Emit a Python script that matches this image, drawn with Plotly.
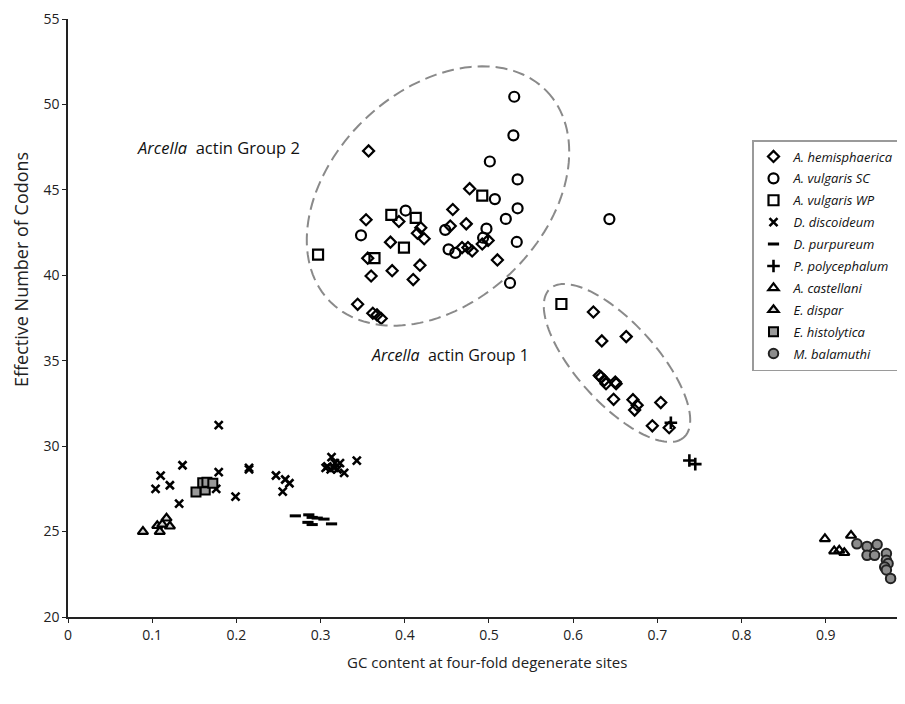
import numpy as np
import plotly.graph_objects as go

# ---------------- data ----------------
hemi_x = [0.357, 0.477, 0.457, 0.354, 0.393, 0.419, 0.473, 0.454,
          0.356, 0.360, 0.344, 0.362, 0.367, 0.372, 0.385, 0.383, 0.410, 0.418, 0.423, 0.415,
          0.468, 0.475, 0.480, 0.492, 0.499, 0.510,
          0.624, 0.634, 0.663, 0.631, 0.633, 0.637, 0.639, 0.650, 0.651, 0.648, 0.671, 0.676,
          0.673, 0.704, 0.694, 0.714]
hemi_y = [47.28, 45.07, 43.85, 43.25, 43.15, 42.78, 43.01, 42.88,
          41.00, 39.96, 38.30, 37.78, 37.68, 37.47, 40.27, 41.94, 39.75, 40.59, 42.14, 42.46,
          41.62, 41.62, 41.42, 41.83, 42.04, 40.90,
          37.85, 36.16, 36.41, 34.13, 34.04, 33.85, 33.65, 33.75, 33.65, 32.74, 32.72, 32.40,
          32.11, 32.55, 31.19, 31.08]

sc_x = [0.530, 0.529, 0.501, 0.534, 0.507, 0.534, 0.520, 0.401, 0.448, 0.497, 0.348, 0.493,
        0.533, 0.452, 0.460, 0.525, 0.643]
sc_y = [50.45, 48.19, 46.66, 45.61, 44.46, 43.92, 43.30, 43.79, 42.66, 42.73, 42.34, 42.20,
        41.95, 41.52, 41.31, 39.55, 43.29]

wp_x = [0.492, 0.384, 0.413, 0.297, 0.364, 0.399, 0.586]
wp_y = [44.66, 43.54, 43.36, 41.21, 41.00, 41.62, 38.32]

ddis_x = [0.179, 0.136, 0.110, 0.121, 0.104, 0.132, 0.179, 0.176, 0.215, 0.215, 0.199, 0.247,
          0.258, 0.263, 0.255, 0.308, 0.313, 0.317, 0.323, 0.312, 0.316, 0.306, 0.320, 0.328, 0.343]
ddis_y = [31.23, 28.88, 28.27, 27.71, 27.50, 26.64, 28.48, 27.50, 28.73, 28.64, 27.05, 28.28,
          28.05, 27.83, 27.34, 28.82, 29.36, 29.01, 29.01, 28.64, 28.73, 28.73, 28.64, 28.44, 29.15]

dpur_x = [0.270, 0.286, 0.290, 0.296, 0.304, 0.285, 0.290, 0.313]
dpur_y = [25.92, 25.98, 25.83, 25.79, 25.73, 25.54, 25.41, 25.45]

ppol_x = [0.716, 0.738, 0.745]
ppol_y = [31.37, 29.16, 28.95]

acas_x = [0.899, 0.930, 0.910, 0.916, 0.922]
acas_y = [24.57, 24.77, 23.86, 23.90, 23.76]

edis_x = [0.089, 0.106, 0.109, 0.117, 0.121, 0.112]
edis_y = [25.00, 25.34, 25.00, 25.78, 25.31, 25.42]

ehis_x = [0.152, 0.163, 0.160, 0.165, 0.172]
ehis_y = [27.32, 27.43, 27.86, 27.89, 27.83]

mbal_x = [0.937, 0.949, 0.961, 0.949, 0.958, 0.972, 0.972, 0.974, 0.970, 0.972, 0.977]
mbal_y = [24.28, 24.13, 24.24, 23.61, 23.61, 23.71, 23.32, 23.13, 22.92, 22.75, 22.26]

x_ticks = [0, 0.1, 0.2, 0.3, 0.4, 0.5, 0.6, 0.7, 0.8, 0.9]
x_ticklabels = ["0", "0.1", "0.2", "0.3", "0.4", "0.5", "0.6", "0.7", "0.8", "0.9"]
y_ticks = [20, 25, 30, 35, 40, 45, 50, 55]

# ---------------- layout constants ----------------
W, H = 905, 704
ML, MR, MT, MB = 60, 0, 11, 95
XR = [0, 1.0036]
YR = [20, 55]
FONT = "Open Sans, Noto Sans, sans-serif"
PW, PH = W - ML - MR, H - MT - MB

def px2data(px, py):
    x = XR[0] + (px - ML) / PW * (XR[1] - XR[0])
    y = YR[1] - (py - MT) / PH * (YR[1] - YR[0])
    return x, y

def ellipse_path(cx, cy, a, b, ang_deg, n=140):
    th = np.radians(ang_deg)
    t = np.linspace(0, 2 * np.pi, n)
    xs = cx + a * np.cos(t) * np.cos(th) - b * np.sin(t) * np.sin(th)
    ys = cy + a * np.cos(t) * np.sin(th) + b * np.sin(t) * np.cos(th)
    pts = [px2data(x, y) for x, y in zip(xs, ys)]
    return "M " + " L ".join(f"{x:.5f},{y:.4f}" for x, y in pts) + " Z"

fig = go.Figure()

def add(name, xs, ys, symbol, size, lw=2, color="black", fill=None):
    fig.add_trace(go.Scatter(
        x=xs, y=ys, mode="markers", name=f"<i>{name}</i>", legendgroup=name,
        marker=dict(symbol=symbol, size=size, color=fill if fill else color,
                    line=dict(color=color, width=lw)),
    ))

add("A. hemisphaerica", hemi_x, hemi_y, "diamond-open", 8.5, 2.2)
add("A. vulgaris SC", sc_x, sc_y, "circle-open", 10, 2.2)
add("A. vulgaris WP", wp_x, wp_y, "square-open", 10, 2.2)
add("D. discoideum", ddis_x, ddis_y, "x-thin-open", 8, 2.6)
add("D. purpureum", dpur_x, dpur_y, "line-ew-open", 8, 3)
add("P. polycephalum", ppol_x, ppol_y, "cross-thin-open", 9, 2.6)
add("A. castellani", acas_x, acas_y, "triangle-up-open", 9, 2.2)
add("E. dispar", edis_x, edis_y, "triangle-up", 9, 2.2, fill="#d9d9d9")
add("E. histolytica", ehis_x, ehis_y, "square", 9, 2, fill="#999999")
add("M. balamuthi", mbal_x, mbal_y, "circle", 9.5, 2, color="#222222", fill="#8c8c8c")

dash_line = dict(color="#8a8a8a", width=2, dash="12px,6px")
shapes = [
    dict(type="path", path=ellipse_path(430, 188, 151, 106, -44), xref="x", yref="y", line=dash_line),
    dict(type="path", path=ellipse_path(609, 355, 100, 40, 48), xref="x", yref="y", line=dash_line),
]

gx2, gy2 = px2data(210, 139)
gx1, gy1 = px2data(442, 347)
annotations = [
    dict(x=gx2, y=gy2, xref="x", yref="y", text="<i>Arcella</i>  actin Group 2", showarrow=False,
         xanchor="center", yanchor="middle", font=dict(family=FONT, size=16.5, color="#111")),
    dict(x=gx1, y=gy1, xref="x", yref="y", text="<i>Arcella</i>  actin Group 1", showarrow=False,
         xanchor="center", yanchor="middle", font=dict(family=FONT, size=16, color="#111")),
    dict(x=(13 - ML) / PW, y=1 - (262 - MT) / PH, xref="paper", yref="paper",
         text="Effective Number of Codons", textangle=-90, showarrow=False,
         xanchor="center", yanchor="middle", font=dict(family=FONT, size=18, color="#222")),
    dict(x=(479 - ML) / PW, y=1 - (654 - MT) / PH, xref="paper", yref="paper",
         text="GC content at four-fold degenerate sites", showarrow=False,
         xanchor="center", yanchor="middle", font=dict(family=FONT, size=15, color="#222")),
]

fig.update_layout(
    width=W, height=H,
    margin=dict(l=ML, r=MR, t=MT, b=MB, autoexpand=False),
    paper_bgcolor="white", plot_bgcolor="white",
    font=dict(family=FONT, size=14, color="#222"),
    showlegend=True,
    legend=dict(x=(744 - ML) / PW, y=1 - (132 - MT) / PH,
                xanchor="left", yanchor="top",
                bordercolor="#9a9a9a", borderwidth=1.5, bgcolor="white",
                font=dict(family=FONT, size=13, color="#111"),
                tracegroupgap=2, itemwidth=30),
    shapes=shapes, annotations=annotations,
    xaxis=dict(range=XR, tickvals=x_ticks, ticktext=x_ticklabels, showgrid=False, zeroline=False,
               showline=True, linecolor="#222", linewidth=1.5, ticks="outside", ticklen=4,
               tickcolor="#222", tickfont=dict(size=14)),
    yaxis=dict(range=YR, tickvals=y_ticks, showgrid=False, zeroline=False,
               showline=True, linecolor="#222", linewidth=1.5, ticks="outside", ticklen=4,
               tickcolor="#222", tickfont=dict(size=14), ticklabeloverflow="allow"),
)

fig.write_html("out.html")
